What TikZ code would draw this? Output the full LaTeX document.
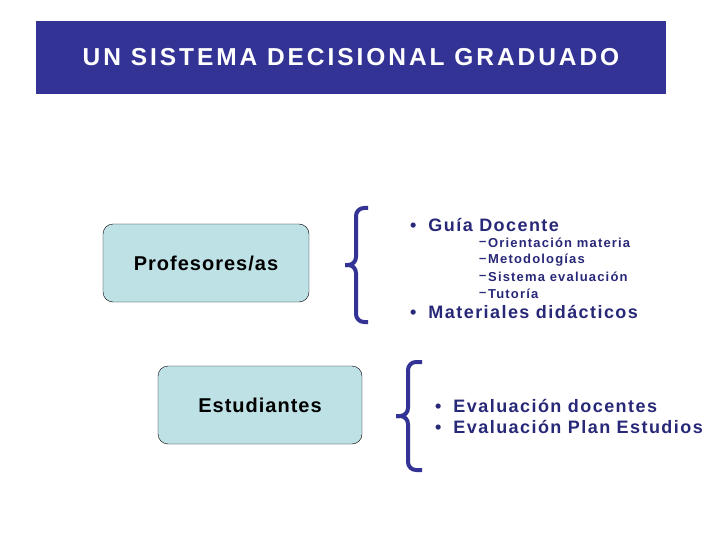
\documentclass[tikz,border=0pt]{standalone}
\usepackage{fontspec}
\setmainfont{Liberation Sans}
\newfontfamily\wideA[LetterSpace=12]{Liberation Sans}
\newfontfamily\wideB[LetterSpace=8]{Liberation Sans}
\newfontfamily\wideC[LetterSpace=9]{Liberation Sans}
\newfontfamily\wideD[LetterSpace=5]{Liberation Sans}
\definecolor{sis_navy}{RGB}{51, 51, 150}
\definecolor{sis_text}{RGB}{40, 40, 120}
\definecolor{sis_light}{RGB}{190, 225, 230}
\usetikzlibrary{positioning}
\begin{document}
\begin{tikzpicture}[x=1pt, y=-1pt,
        box/.style={draw=black, fill=sis_light, rounded corners=10pt,
                    minimum width=206pt, minimum height=78pt,
                    font=\wideD\fontsize{20}{22}\selectfont\bfseries, align=center},
        brace/.style={draw=sis_navy, line width=4pt, rounded corners=8pt},
        item/.style={anchor=west, sis_text, font=\wideB\fontsize{18}{20}\selectfont\bfseries, inner sep=0pt},
        sub/.style={anchor=west, sis_text, font=\wideC\fontsize{13}{15}\selectfont\bfseries, inner sep=0pt},
      ]
        \useasboundingbox (0,0) rectangle (720,540);
        \node[fill=sis_navy, minimum width=630pt, minimum height=73pt, text=white,
              font=\wideA\fontsize{24.5}{27}\selectfont\bfseries] (title) at (351,57.5) {UN SISTEMA DECISIONAL GRADUADO};

        \node[box] (prof) at (206,263) {Profesores/as};
        \node[box, minimum width=204pt] (est) at (260,405) {Estudiantes};

        % braces
        \draw[brace] (368,208) -- (356,208) -- (356,265) -- (345,265);
        \draw[brace] (368,322) -- (356,322) -- (356,265) -- (345,265);
        \draw[brace] (422,362) -- (408,362) -- (408,416) -- (396,416);
        \draw[brace] (422,470) -- (408,470) -- (408,416) -- (396,416);

        \node[item] (guia) at (410,225) {\textbullet\hspace{12pt}Guía Docente};
        \foreach \t [count=\i] in {Orientación materia, Metodologías, Sistema evaluación, Tutoría}
        {
          \node[sub] (d\i) at (479,{226+17*\i}) {\textendash};
          \node[sub] (s\i) at (488,{226+17*\i}) {\t};
        }
        \node[item] (mat) at (410,312) {\textbullet\hspace{12pt}Materiales didácticos};
        \node[item] (evd) at (435,406) {\textbullet\hspace{12pt}Evaluación docentes};
        \node[item] (evp) at (435,427) {\textbullet\hspace{12pt}Evaluación Plan Estudios};
      \end{tikzpicture}
\end{document}
